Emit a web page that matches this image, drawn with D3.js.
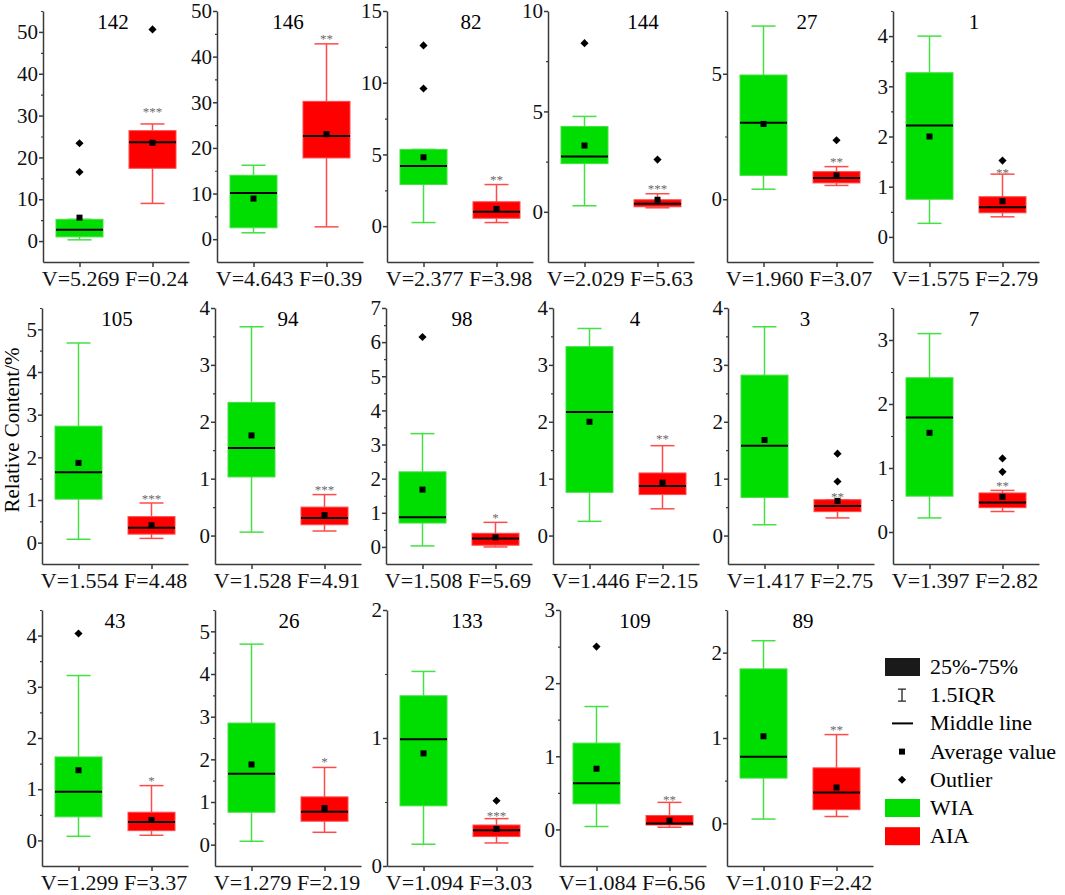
<!DOCTYPE html>
<html>
<head>
<meta charset="utf-8">
<script src="https://cdn.jsdelivr.net/npm/d3@7"></script>
</head>
<body style="margin:0;background:#fff">
<svg id="chart" width="1065" height="895"></svg>
<script>
// panel titles, in reading order (3 rows x 6 cols, last cell is the legend)
const panelIds = ['142', '146', '82', '144', '27', '1', '105', '94', '98', '4', '3', '7', '43', '26', '133', '109', '89'];
const vValues = [5.269, 4.643, 2.377, 2.029, 1.960, 1.575, 1.554, 1.528, 1.508, 1.446, 1.417, 1.397, 1.299, 1.279, 1.094, 1.084, 1.010];
const fValues = [0.24, 0.39, 3.98, 5.63, 3.07, 2.79, 4.48, 4.91, 5.69, 2.15, 2.75, 2.82, 3.37, 2.19, 3.03, 6.56, 2.42];
const groups = ['WIA', 'AIA'];

// box stats: [low whisker, Q1, median, Q3, high whisker]
const wiaBox = [
  [0.3, 1.0, 2.7, 5.2, 5.2], [1.4, 2.5, 10.1, 14.0, 16.2], [0.25, 2.9, 4.2, 5.35, 5.35],
  [0.3, 2.4, 2.75, 4.25, 4.75], [0.4, 0.95, 3.05, 4.95, 6.9], [0.27, 0.75, 2.22, 3.27, 4.0],
  [0.08, 1.02, 1.65, 2.73, 4.68], [0.06, 1.03, 1.54, 2.34, 3.67], [0.03, 0.7, 0.87, 2.2, 3.32],
  [0.25, 0.76, 2.17, 3.32, 3.64], [0.19, 0.67, 1.58, 2.82, 3.67], [0.22, 0.56, 1.79, 2.41, 3.1],
  [0.08, 0.46, 0.95, 1.63, 3.22], [0.08, 0.76, 1.66, 2.85, 4.7], [0.17, 0.47, 0.99, 1.33, 1.52],
  [0.04, 0.35, 0.63, 1.18, 1.68], [0.05, 0.53, 0.78, 1.81, 2.14]
];
const aiaBox = [
  [9, 17.4, 23.6, 26.4, 28], [2.7, 17.8, 22.6, 30.2, 42.8], [0.25, 0.55, 1.0, 1.7, 2.9],
  [0.2, 0.25, 0.4, 0.6, 0.9], [0.55, 0.65, 0.85, 1.1, 1.3], [0.4, 0.48, 0.59, 0.8, 1.25],
  [0.1, 0.2, 0.35, 0.61, 0.93], [0.08, 0.19, 0.31, 0.5, 0.72], [0.0, 0.05, 0.25, 0.4, 0.72],
  [0.47, 0.72, 0.87, 1.1, 1.58], [0.31, 0.42, 0.52, 0.63, 0.63], [0.32, 0.38, 0.46, 0.61, 0.65],
  [0.1, 0.19, 0.36, 0.55, 1.07], [0.29, 0.55, 0.77, 1.12, 1.81], [0.18, 0.23, 0.28, 0.32, 0.37],
  [0.03, 0.06, 0.08, 0.19, 0.37], [0.08, 0.16, 0.36, 0.65, 1.04]
];
const wiaMean = [5.6, 8.9, 4.8, 3.3, 3.0, 2.0, 1.87, 1.76, 1.68, 2.0, 1.68, 1.55, 1.37, 1.88, 0.88, 0.83, 1.02];
const aiaMean = [23.5, 23.0, 1.2, 0.6, 0.95, 0.71, 0.41, 0.36, 0.28, 0.93, 0.61, 0.55, 0.4, 0.86, 0.29, 0.12, 0.42];
const wiaOutliers = [[16.5, 23.4], [], [9.6, 12.6], [8.4], [], [], [], [], [6.15], [], [], [], [4.04], [], [], [2.5], []];
const aiaOutliers = [[50.6], [], [], [2.6], [2.35], [1.52], [], [], [], [], [0.95, 1.44], [0.94, 1.15], [], [], [0.51], [], []];
const stars = ['***', '**', '**', '***', '**', '**', '***', '***', '*', '**', '**', '**', '*', '*', '***', '**', '**'];
const starValue = [32, 45, 3.6, 1.4, 1.7, 1.37, 1.15, 0.88, 1.0, 1.78, 0.77, 0.79, 1.25, 2.05, 0.43, 0.47, 1.15];

// y axis domains and major tick step per panel
const yDomains = [[-5, 55], [-5, 50], [-2.5, 15], [-2.5, 10], [-2.5, 7.5], [-0.5, 4.5],
  [-0.5, 5.5], [-0.5, 4], [-0.5, 7], [-0.5, 4], [-0.5, 4], [-0.5, 3.5],
  [-0.5, 4.5], [-0.5, 5.5], [0, 2], [-0.5, 3], [-0.5, 2.5]];
const tickSteps = [10, 10, 5, 5, 5, 1, 1, 1, 1, 1, 1, 1, 1, 1, 1, 1, 1];

const legendLabels = ['25%-75%', '1.5IQR', 'Middle line', 'Average value', 'Outlier', 'WIA', 'AIA'];

// layout
const axisX = [43, 217, 387, 548, 727, 893, 42, 215, 386, 553, 728, 893, 42, 215, 387, 560, 727];
const titleX = [113, 288, 471, 643, 807, 974, 117, 288, 462, 635, 805, 974, 115, 289, 467, 635, 803];
const rowTop = [11, 308, 610];
const rowBottom = [262, 564, 866];
const panelW = 146;
const boxW = 47, capW = 24;
const serif = 'Liberation Serif';
const fill = { WIA: '#00dd00', AIA: '#ff0000' };
const edge = { WIA: '#44e044', AIA: '#ff4a4a' };
const axisColor = '#3a3a3a';

const svg = d3.select('#chart').attr('font-family', serif);

const diamond = d3.symbol().type(d3.symbolDiamond2).size(42);

panelIds.forEach((id, i) => {
  const row = Math.floor(i / 6);
  const top = rowTop[row], bottom = rowBottom[row];
  const g = svg.append('g').attr('transform', `translate(${axisX[i]},0)`);

  const x = d3.scalePoint().domain(groups).range([0, panelW]).padding(0.5);
  const y = d3.scaleLinear().domain(yDomains[i]).range([bottom, top]);

  const [lo, hi] = yDomains[i];
  const step = tickSteps[i];
  const major = d3.range(Math.max(0, Math.ceil(lo / step) * step), hi + 1e-9, step);
  const minor = d3.range(Math.ceil(lo / (step / 2)) * (step / 2), hi + 1e-9, step / 2)
    .filter(v => v > lo && !major.some(m => Math.abs(m - v) < 1e-9));

  // minor ticks
  g.append('g')
    .call(d3.axisLeft(y).tickValues(minor).tickSize(2).tickFormat(''))
    .call(a => a.select('.domain').remove())
    .call(a => a.selectAll('line').attr('stroke', axisColor).attr('stroke-width', 1.2));

  // major ticks + labels
  g.append('g')
    .call(d3.axisLeft(y).tickValues(major).tickSize(4).tickSizeOuter(0).tickPadding(1).tickFormat(d3.format('d')))
    .attr('font-family', serif)
    .call(a => a.select('.domain').attr('stroke', axisColor).attr('stroke-width', 1.5))
    .call(a => a.selectAll('line').attr('stroke', axisColor).attr('stroke-width', 1.5))
    .call(a => a.selectAll('text').attr('font-size', 21).attr('fill', '#111').attr('font-family', serif));

  // bottom axis, ticks only
  g.append('g')
    .attr('transform', `translate(0,${bottom})`)
    .call(d3.axisBottom(x).tickSize(5).tickSizeOuter(0).tickFormat(''))
    .call(a => a.select('.domain').attr('stroke', axisColor).attr('stroke-width', 1.5))
    .call(a => a.selectAll('line').attr('stroke', axisColor).attr('stroke-width', 1.5));

  // V / F caption centred under the panel
  svg.append('text')
    .attr('x', axisX[i] + panelW / 2 - 1)
    .attr('y', bottom + 24)
    .attr('text-anchor', 'middle')
    .attr('font-family', serif)
    .attr('font-size', 22)
    .attr('fill', '#111')
    .text(`V=${vValues[i].toFixed(3)} F=${fValues[i].toFixed(2)}`);

  // panel title
  svg.append('text')
    .attr('x', titleX[i])
    .attr('y', top + 18)
    .attr('text-anchor', 'middle')
    .attr('font-family', serif)
    .attr('font-size', 21)
    .text(id);

  const boxes = [
    { key: 'WIA', s: wiaBox[i], mean: wiaMean[i], out: wiaOutliers[i] },
    { key: 'AIA', s: aiaBox[i], mean: aiaMean[i], out: aiaOutliers[i] }
  ];

  boxes.forEach(b => {
    const cx = x(b.key);
    const [low, q1, med, q3, high] = b.s;
    const bg = g.append('g');
    // whiskers
    bg.append('line').attr('x1', cx).attr('x2', cx).attr('y1', y(low)).attr('y2', y(q1))
      .attr('stroke', edge[b.key]).attr('stroke-width', 1.5);
    bg.append('line').attr('x1', cx).attr('x2', cx).attr('y1', y(q3)).attr('y2', y(high))
      .attr('stroke', edge[b.key]).attr('stroke-width', 1.5);
    [low, high].forEach(v => {
      bg.append('line').attr('x1', cx - capW / 2).attr('x2', cx + capW / 2)
        .attr('y1', y(v)).attr('y2', y(v))
        .attr('stroke', edge[b.key]).attr('stroke-width', 1.5);
    });
    // box
    bg.append('rect')
      .attr('x', cx - boxW / 2).attr('width', boxW)
      .attr('y', y(q3)).attr('height', y(q1) - y(q3))
      .attr('fill', fill[b.key]).attr('stroke', edge[b.key]).attr('stroke-width', 1);
    // median
    bg.append('line').attr('x1', cx - boxW / 2).attr('x2', cx + boxW / 2)
      .attr('y1', y(med)).attr('y2', y(med))
      .attr('stroke', '#000').attr('stroke-width', 2);
    // mean
    bg.append('rect').attr('x', cx - 3).attr('y', y(b.mean) - 3)
      .attr('width', 6).attr('height', 6).attr('fill', '#000');
    // outliers
    bg.selectAll('path.out').data(b.out).join('path')
      .attr('class', 'out')
      .attr('transform', d => `translate(${cx},${y(d)})`)
      .attr('d', diamond)
      .attr('fill', '#000');
  });

  // significance stars
  g.append('text')
    .attr('x', x('AIA'))
    .attr('y', y(starValue[i]) + 9)
    .attr('text-anchor', 'middle')
    .attr('font-family', serif)
    .attr('font-size', 13)
    .attr('fill', '#6a6a6a')
    .text(stars[i]);
});

// y axis title
svg.append('text')
  .attr('transform', 'translate(19,430) rotate(-90)')
  .attr('text-anchor', 'middle')
  .attr('font-family', serif)
  .attr('font-size', 21)
  .text('Relative Content/%');

// legend
const legX = 885, legY0 = 667, legStep = 28.2;
const leg = svg.append('g');
legendLabels.forEach((lab, k) => {
  const cy = legY0 + k * legStep;
  const sx = legX + 17;
  if (k === 0 || k === 5 || k === 6) {
    leg.append('rect').attr('x', legX).attr('y', cy - 9).attr('width', 35).attr('height', 18)
      .attr('fill', k === 0 ? '#1a1a1a' : k === 5 ? fill.WIA : fill.AIA);
  } else if (k === 1) {
    leg.append('path')
      .attr('d', `M${sx - 4},${cy - 6}H${sx + 4}M${sx},${cy - 6}V${cy + 6}M${sx - 4},${cy + 6}H${sx + 4}`)
      .attr('stroke', '#222').attr('stroke-width', 1.3).attr('fill', 'none');
  } else if (k === 2) {
    leg.append('line').attr('x1', sx - 10).attr('x2', sx + 11).attr('y1', cy).attr('y2', cy)
      .attr('stroke', '#000').attr('stroke-width', 2);
  } else if (k === 3) {
    leg.append('rect').attr('x', sx - 3).attr('y', cy - 3).attr('width', 6).attr('height', 6).attr('fill', '#000');
  } else if (k === 4) {
    leg.append('path').attr('transform', `translate(${sx},${cy})`).attr('d', diamond).attr('fill', '#000');
  }
  leg.append('text')
    .attr('x', legX + 45)
    .attr('y', cy + 7)
    .attr('font-family', serif)
    .attr('font-size', 22)
    .text(lab);
});
</script>
</body>
</html>
